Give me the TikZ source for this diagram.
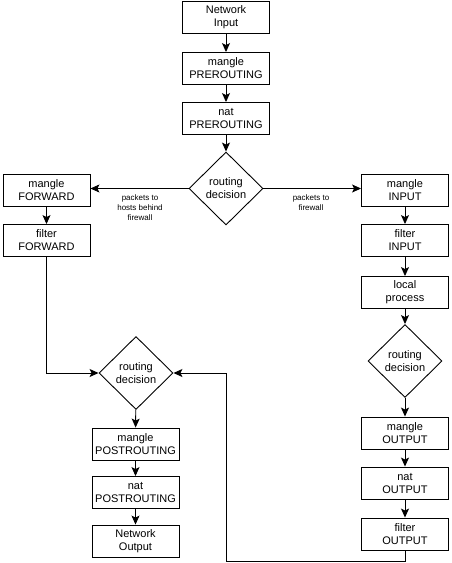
\documentclass[tikz,border=0pt]{standalone}
\usepackage{fontspec}
\setmainfont{Liberation Sans}
\usetikzlibrary{shapes.geometric,arrows.meta}
\begin{document}
\begin{tikzpicture}[x=1pt,y=-1pt,
  box/.style={draw,line width=0.9pt,minimum width=87pt,minimum height=32pt,inner sep=0pt,align=center,font=\fontsize{11}{13}\selectfont},
  dec/.style={draw,diamond,line width=0.9pt,minimum width=74pt,minimum height=73pt,inner sep=0pt,align=center,font=\fontsize{11}{13}\selectfont},
  lab/.style={align=center,font=\fontsize{8}{10}\selectfont,inner sep=0pt},
  arr/.style={line width=0.9pt,-{Stealth[length=9pt,width=8pt,inset=2pt]}},
  ln/.style={line width=0.9pt}]
\useasboundingbox (0,0) rectangle (452,563);
% top column
\node[box] (ni) at (226,17.5) {Network\\Input};
\node[box] (mpre) at (226,68.5) {mangle\\PREROUTING};
\node[box] (npre) at (226,118.5) {nat\\PREROUTING};
\node[dec] (rd1) at (226,188.5) {routing\\decision};
% left column
\node[box] (mfw) at (46.5,190) {mangle\\FORWARD};
\node[box] (ffw) at (46.5,240.5) {filter\\FORWARD};
% right column
\node[box] (min) at (405,190) {mangle\\INPUT};
\node[box] (fin) at (405,240.5) {filter\\INPUT};
\node[box] (lp) at (405,292.5) {local\\process};
\node[dec] (rd3) at (405,361) {routing\\decision};
\node[box] (mout) at (405,433) {mangle\\OUTPUT};
\node[box] (nout) at (405,483) {nat\\OUTPUT};
\node[box] (fout) at (405,534) {filter\\OUTPUT};
% bottom-left column
\node[dec] (rd2) at (136,373) {routing\\decision};
\node[box] (mpost) at (135.5,444) {mangle\\POSTROUTING};
\node[box] (npost) at (135.5,492.5) {nat\\POSTROUTING};
\node[box] (no) at (135.5,541) {Network\\Output};
% labels
\node[lab] (l1) at (140,207.5) {packets to\\hosts behind\\firewall};
\node[lab] (l2) at (311,202.5) {packets to\\firewall};
% coordinates
\coordinate (c1) at (46.5,373);
\coordinate (c2) at (405,561);
\coordinate (c3) at (226,561);
\coordinate (c4) at (226,373);
% arrows
\draw[arr] (ni) -- (mpre);
\draw[arr] (mpre) -- (npre);
\draw[arr] (npre) -- (rd1);
\draw[arr] (rd1.west) -- (rd1.west -| mfw.east);
\draw[arr] (rd1.east) -- (rd1.east -| min.west);
\draw[arr] (mfw) -- (ffw);
\draw[arr] (min) -- (fin);
\draw[arr] (fin) -- (lp);
\draw[arr] (lp) -- (rd3);
\draw[arr] (rd3) -- (mout);
\draw[arr] (mout) -- (nout);
\draw[arr] (nout) -- (fout);
\draw[arr] (ffw) -- (c1) -- (rd2.west);
\draw[arr] (fout) -- (c2) -- (c3) -- (c4) -- (rd2.east);
\draw[arr] (rd2) -- (mpost);
\draw[arr] (mpost) -- (npost);
\draw[arr] (npost) -- (no);
\end{tikzpicture}
\end{document}
